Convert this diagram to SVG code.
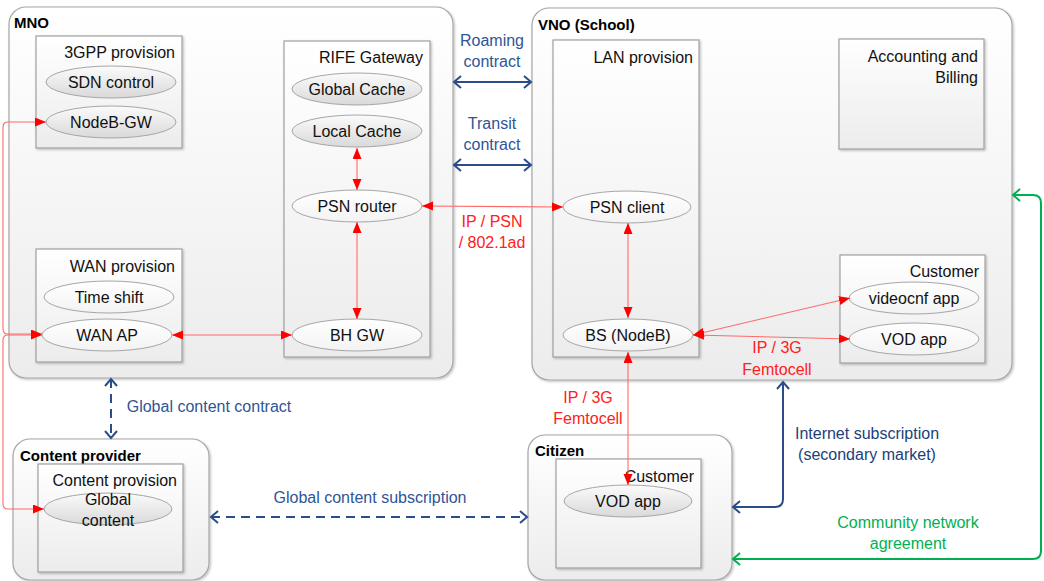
<svg xmlns="http://www.w3.org/2000/svg" width="1044" height="581" viewBox="0 0 1044 581">
  <defs>
    <linearGradient id="gBox" x1="0" y1="0" x2="0" y2="1">
      <stop offset="0" stop-color="#ffffff"/>
      <stop offset="1" stop-color="#ececec"/>
    </linearGradient>
    <linearGradient id="gEllLight" x1="0" y1="0" x2="0" y2="1">
      <stop offset="0" stop-color="#ffffff"/>
      <stop offset="1" stop-color="#f3f3f3"/>
    </linearGradient>
    <linearGradient id="gEllShade" x1="0" y1="0" x2="0" y2="1">
      <stop offset="0" stop-color="#fbfbfb"/>
      <stop offset="1" stop-color="#d9d9d9"/>
    </linearGradient>
    <filter id="shadow" x="-5%" y="-5%" width="110%" height="110%">
      <feDropShadow dx="1.2" dy="1.2" stdDeviation="0.8" flood-color="#000" flood-opacity="0.25"/>
    </filter>
    <marker id="redHead" markerUnits="userSpaceOnUse" markerWidth="12" markerHeight="10" refX="11" refY="4.5" orient="auto-start-reverse">
      <path d="M0,0 L11,4.5 L0,9 z" fill="#ff0000"/>
    </marker>
    <marker id="blueHead" markerUnits="userSpaceOnUse" markerWidth="12" markerHeight="14" refX="8" refY="7" orient="auto-start-reverse" overflow="visible">
      <path d="M1,1 L8,7 L1,13" fill="none" stroke="#2b4c8a" stroke-width="2" stroke-linejoin="miter"/>
    </marker>
    <marker id="greenHead" markerUnits="userSpaceOnUse" markerWidth="12" markerHeight="14" refX="8" refY="7" orient="auto-start-reverse" overflow="visible">
      <path d="M1,1 L8,7 L1,13" fill="none" stroke="#00b050" stroke-width="2"/>
    </marker>
  </defs>
  <style>
    .container { fill: url(#gBox); stroke: #a6a6a6; stroke-width: 1.2; filter: url(#shadow); }
    .box { fill: url(#gBox); stroke: #a0a0a0; stroke-width: 1.2; filter: url(#shadow); }
    .ell { fill: url(#gEllLight); stroke: #a6a6a6; stroke-width: 1; }
    .ell.shade { fill: url(#gEllShade); }
    text { font-family: "Liberation Sans", Arial, sans-serif; font-size: 16px; fill: #111; }
    .title { font-weight: bold; font-size: 15px; fill: #000; }
    .lbl { text-anchor: end; }
    .mid { text-anchor: middle; }
    .blueTxt { fill: #2f5597; text-anchor: middle; }
    .navyTxt { fill: #203f7a; text-anchor: middle; }
    .redTxt { fill: #ff2020; text-anchor: middle; }
    .greenTxt { fill: #00b050; text-anchor: middle; }
    .red { fill: none; stroke: #ff6a6a; stroke-width: 1.1; marker-start: url(#redHead); marker-end: url(#redHead); }
    .blue { fill: none; stroke: #2b4c8a; stroke-width: 2; marker-start: url(#blueHead); marker-end: url(#blueHead); }
    .dash { stroke-dasharray: 9 6; }
    .green { fill: none; stroke: #00b050; stroke-width: 2; marker-start: url(#greenHead); marker-end: url(#greenHead); }
  </style>

  <!-- MNO -->
  <g id="mno">
    <rect class="container" x="9" y="7" width="444" height="371" rx="17"/>
    <text class="title" x="14" y="28">MNO</text>
  </g>
  <g id="gpp-provision">
    <rect class="box" x="36" y="36" width="146" height="112"/>
    <text class="lbl" x="175" y="58">3GPP provision</text>
  </g>
  <g id="sdn-control">
    <ellipse class="ell shade" cx="111" cy="82" rx="65" ry="16"/>
    <text class="mid" x="111" y="88">SDN control</text>
  </g>
  <g id="nodeb-gw">
    <ellipse class="ell shade" cx="111" cy="122" rx="65" ry="16"/>
    <text class="mid" x="111" y="128">NodeB-GW</text>
  </g>
  <g id="wan-provision">
    <rect class="box" x="36" y="249" width="146" height="113"/>
    <text class="lbl" x="175" y="272">WAN provision</text>
  </g>
  <g id="time-shift">
    <ellipse class="ell" cx="109" cy="297" rx="65" ry="16"/>
    <text class="mid" x="109" y="303">Time shift</text>
  </g>
  <g id="wan-ap">
    <ellipse class="ell" cx="107" cy="335" rx="65" ry="16"/>
    <text class="mid" x="107" y="341">WAN AP</text>
  </g>
  <g id="rife-gateway">
    <rect class="box" x="284" y="41" width="146" height="316"/>
    <text class="lbl" x="423" y="63">RIFE Gateway</text>
  </g>
  <g id="global-cache">
    <ellipse class="ell shade" cx="357" cy="89" rx="65" ry="16"/>
    <text class="mid" x="357" y="95">Global Cache</text>
  </g>
  <g id="local-cache">
    <ellipse class="ell shade" cx="357" cy="131" rx="65" ry="16"/>
    <text class="mid" x="357" y="137">Local Cache</text>
  </g>
  <g id="psn-router">
    <ellipse class="ell" cx="357" cy="206" rx="65" ry="16"/>
    <text class="mid" x="357" y="212">PSN router</text>
  </g>
  <g id="bh-gw">
    <ellipse class="ell" cx="357" cy="335" rx="65" ry="16"/>
    <text class="mid" x="357" y="341">BH GW</text>
  </g>

  <!-- VNO -->
  <g id="vno">
    <rect class="container" x="532" y="8" width="480" height="372" rx="17"/>
    <text class="title" x="538" y="30">VNO (School)</text>
  </g>
  <g id="lan-provision">
    <rect class="box" x="553" y="40" width="146" height="317"/>
    <text class="lbl" x="693" y="63">LAN provision</text>
  </g>
  <g id="psn-client">
    <ellipse class="ell" cx="627" cy="207" rx="64" ry="16"/>
    <text class="mid" x="627" y="213">PSN client</text>
  </g>
  <g id="bs-nodeb">
    <ellipse class="ell" cx="628" cy="335" rx="65" ry="16"/>
    <text class="mid" x="628" y="341">BS (NodeB)</text>
  </g>
  <g id="accounting">
    <rect class="box" x="839" y="39" width="145" height="110"/>
    <text class="lbl" x="978" y="62">Accounting and</text>
    <text class="lbl" x="978" y="83">Billing</text>
  </g>
  <g id="vno-customer">
    <rect class="box" x="840" y="255" width="145" height="108"/>
    <text class="lbl" x="979" y="277">Customer</text>
  </g>
  <g id="videocnf-app">
    <ellipse class="ell" cx="914" cy="298" rx="65" ry="16"/>
    <text class="mid" x="914" y="304">videocnf app</text>
  </g>
  <g id="vno-vod-app">
    <ellipse class="ell" cx="914" cy="339" rx="65" ry="16"/>
    <text class="mid" x="914" y="345">VOD app</text>
  </g>

  <!-- Content provider -->
  <g id="content-provider">
    <rect class="container" x="13" y="439" width="196" height="141" rx="17"/>
    <text class="title" x="20" y="461">Content provider</text>
  </g>
  <g id="content-provision">
    <rect class="box" x="38" y="464" width="145" height="108"/>
    <text class="lbl" x="177" y="486">Content provision</text>
  </g>
  <g id="global-content">
    <ellipse class="ell shade" cx="108" cy="509" rx="64" ry="16"/>
    <text class="mid" x="108" y="505">Global</text>
    <text class="mid" x="108" y="526">content</text>
  </g>

  <!-- Citizen -->
  <g id="citizen">
    <rect class="container" x="528" y="435" width="204" height="145" rx="17"/>
    <text class="title" x="535" y="456">Citizen</text>
  </g>
  <g id="citizen-customer">
    <rect class="box" x="556" y="459" width="145" height="109"/>
    <text class="lbl" x="694" y="482">Customer</text>
  </g>
  <g id="citizen-vod-app">
    <ellipse class="ell shade" cx="628" cy="501" rx="64" ry="16"/>
    <text class="mid" x="628" y="507">VOD app</text>
  </g>

  <!-- connectors -->
  <g id="connectors">
    <!-- red data paths -->
    <path class="red" d="M46,122 L8,122 Q3,122 3,127 L3,329 Q3,334 8,334 L42,334"/>
    <path class="red" d="M42,335 L8,335 Q3,335 3,340 L3,504 Q3,509 8,509 L44,509"/>
    <path class="red" d="M357,148 L357,190"/>
    <path class="red" d="M357,222 L357,319"/>
    <path class="red" d="M172,335 L292,335"/>
    <path class="red" d="M422,206 L563,207"/>
    <path class="red" d="M628,223 L628,318"/>
    <path class="red" d="M693,335 L850,298"/>
    <path class="red" d="M693,335 L850,339"/>
    <path class="red" d="M628,352 L628,485"/>

    <!-- contracts -->
    <path class="blue" d="M454,82 L531,82"/>
    <path class="blue" d="M454,165 L531,165"/>
    <path class="blue dash" d="M111,379 L111,438"/>
    <path class="blue dash" d="M211,517 L527,517"/>
    <path class="blue" d="M783,382 L783,499 Q783,507 775,507 L733,507"/>
    <path class="green" d="M733,559 L1033,559 Q1041,559 1041,551 L1041,203 Q1041,195 1033,195 L1013,195"/>

    <!-- connector labels -->
    <text class="blueTxt" x="492" y="46">Roaming</text>
    <text class="blueTxt" x="492" y="67">contract</text>
    <text class="blueTxt" x="492" y="129">Transit</text>
    <text class="blueTxt" x="492" y="150">contract</text>
    <text class="redTxt" x="492" y="227">IP / PSN</text>
    <text class="redTxt" x="492" y="248">/ 802.1ad</text>
    <text class="redTxt" x="777" y="353">IP / 3G</text>
    <text class="redTxt" x="777" y="375">Femtocell</text>
    <text class="redTxt" x="588" y="403">IP / 3G</text>
    <text class="redTxt" x="588" y="424">Femtocell</text>
    <text class="blueTxt" x="209" y="412">Global content contract</text>
    <text class="blueTxt" x="370" y="503">Global content subscription</text>
    <text class="navyTxt" x="867" y="439">Internet subscription</text>
    <text class="navyTxt" x="867" y="460">(secondary market)</text>
    <text class="greenTxt" x="908" y="528">Community network</text>
    <text class="greenTxt" x="908" y="549">agreement</text>
  </g>
</svg>
